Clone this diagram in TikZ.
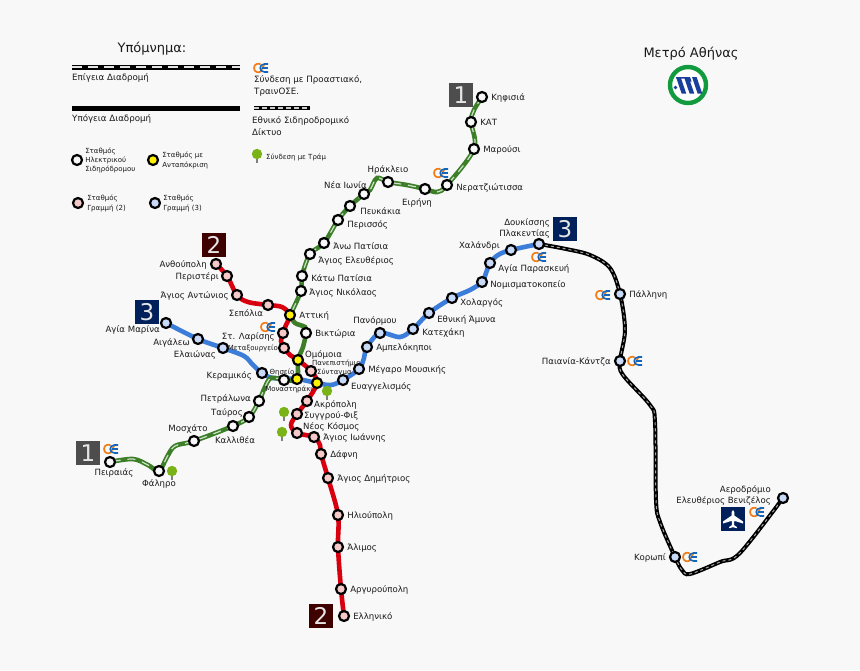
\documentclass[tikz,border=0pt]{standalone}
\usepackage{fontspec}
\setmainfont{DejaVu Sans}
\usepackage{xcolor}
\usepackage{tikz}
\usetikzlibrary{arrows.meta,positioning,backgrounds}
\definecolor{pagegrey}{HTML}{F8F8F8}
\definecolor{linered}{HTML}{D8000F}
\definecolor{lineblue}{HTML}{3B7DD8}
\definecolor{linegreen}{HTML}{3C7F28}
\definecolor{fillpink}{HTML}{F6C9C9}
\definecolor{fillblue}{HTML}{C9DAF8}
\definecolor{navy}{HTML}{00205B}
\definecolor{darkred}{HTML}{3F0000}
\definecolor{slate}{HTML}{4D4D4D}
\definecolor{osered}{HTML}{F07D1A}
\definecolor{oseblue}{HTML}{1566B8}
\definecolor{treegreen}{HTML}{7AB317}
\definecolor{ringgreen}{HTML}{129A3E}
\definecolor{logoblue}{HTML}{1A3E9C}
\definecolor{textgrey}{HTML}{1A1A1A}

\begin{document}
\begin{tikzpicture}[x=1pt,y=-1pt,
  stn/.style={circle,draw=black,line width=2.2pt,minimum size=10pt,inner sep=0pt,fill=pagegrey},
  stnpink/.style={stn,fill=fillpink},
  stnblue/.style={stn,fill=fillblue},
  stnswap/.style={stn,fill=yellow},
  lbl/.style={inner sep=0pt,yshift=-.8pt,font=\fontsize{8.6pt}{9.6pt}\selectfont,text=textgrey},
  tiny/.style={inner sep=0pt,yshift=-.5pt,font=\fontsize{7pt}{9.4pt}\selectfont,text=textgrey,align=left},
  legendtext/.style={inner sep=0pt,yshift=-.8pt,font=\fontsize{8.7pt}{11.5pt}\selectfont,text=textgrey,align=left},
  numbox/.style={minimum size=24pt,inner sep=0pt,text=white!90!black,font=\fontsize{23pt}{23pt}\selectfont},
  redline/.style={draw=linered,line width=4.6pt,line cap=round},
  blueline/.style={draw=lineblue,line width=4.6pt,line cap=round},
  greenline/.style={draw=linegreen,line width=4.6pt},
  greendash/.style={draw=white!75!linegreen,line width=1.2pt,dash pattern=on 8pt off 7pt},
  railline/.style={draw=black,line width=4pt},
  raildash/.style={draw=white!65!black,line width=1pt,dash pattern=on 3pt off 3pt},
  ose/.pic={
    \draw[osered,line width=1.7pt] (-.5,-3.6) .. controls (-2,-5) and (-7,-4.5) .. (-7,0) .. controls (-7,4.5) and (-2,5) .. (-.5,3.6) -- (3.5,-4);
    \draw[oseblue,line width=1.6pt] (7.2,-4) -- (3.5,-4) .. controls (.5,-4) and (-.8,-2) .. (-.8,0) .. controls (-.8,2) and (.5,4) .. (3.5,4) -- (7.2,4);
    \draw[oseblue,line width=1.4pt] (1,0) -- (6.8,0);
  },
  tram/.pic={
    \fill[gray] (-.9,0) rectangle (.9,9);
    \fill[treegreen] (0,0) circle (5.2);
  }]

  % legend
  \node[font=\fontsize{13pt}{13pt}\selectfont,text=textgrey,inner sep=0pt] (legendT) at (152,49) {Υπόμνημα:};
  \coordinate (barA) at (72,67); \coordinate (barB) at (240,67);
  \coordinate (barC) at (72,108); \coordinate (barD) at (240,108);
  \coordinate (barE) at (254,108); \coordinate (barF) at (310,108);
  \draw[black,line width=5pt] (barA) -- (barB);
  \draw[white!90!black,line width=1.4pt,dash pattern=on 10pt off 6pt] (barA) -- (barB);
  \draw[black,line width=5pt] (barC) -- (barD);
  \draw[black,line width=3.4pt] (barE) -- (barF);
  \draw[white!80!black,line width=1.2pt,dash pattern=on 5pt off 3pt] (barE) -- (barF);
  \node[legendtext,anchor=west] (overT) at (72,77) {Επίγεια Διαδρομή};
  \node[legendtext,anchor=west] (underT) at (72,118) {Υπόγεια Διαδρομή};
  \node[legendtext,anchor=north west] (suburbT) at (254,75) {Σύνδεση με Προαστιακό,\\ΤραινΟΣΕ.};
  \node[legendtext,anchor=north west] (railT) at (252,116) {Εθνικό Σιδηροδρομικό\\Δίκτυο};
  \pic at (261,68) {ose};
  \pic at (257,154) {tram};
  \node[tiny,anchor=west] (tramT) at (266,157) {Σύνδεση με Τράμ};
  \node[stn] (keyA) at (77,160) {};
  \node[stnswap] (keyB) at (153,160) {};
  \node[stnpink] (keyC) at (78,203) {};
  \node[stnblue] (keyD) at (155,203) {};
  \node[tiny,right=2pt of keyA] (keyAT) {Σταθμός\\Ηλεκτρικού\\Σιδηρόδρομου};
  \node[tiny,right=3pt of keyB] (keyBT) {Σταθμός με\\Ανταπόκριση};
  \node[tiny,right=3pt of keyC] (keyCT) {Σταθμός\\Γραμμή (2)};
  \node[tiny,right=2pt of keyD] (keyDT) {Σταθμός\\Γραμμή (3)};

  % title and logo
  \node[font=\fontsize{13pt}{13pt}\selectfont,text=textgrey,inner sep=0pt] (titleT) at (691,54) {Μετρό Αθήνας};
  \node[circle,draw=ringgreen,line width=4.4pt,fill=white,minimum size=36pt,inner sep=0pt] (logo) at (688,85) {};
  \foreach \d in {0,8,16}
    \fill[logoblue] (676+\d,77) -- (680.6+\d,77) -- (686.2+\d,93.5) -- (681.6+\d,93.5) -- cycle;
  \fill[logoblue] (676,77) -- (690,77) -- (691.6,81.5) -- (687,81.5) -- (685.6,78.5) -- (676.5,78.5) -- cycle;
  \fill[logoblue] (675.4,87.5) circle (1.9);

  % line 1
  \node[stn] (kifisia) at (482,97) {};
  \node[stn] (kat) at (471,122) {};
  \node[stn] (marousi) at (474,149) {};
  \node[stn] (nerat) at (447,185) {};
  \node[stn] (irini) at (425,189) {};
  \node[stn] (iraklio) at (388,182) {};
  \node[stn] (neaionia) at (364,194) {};
  \node[stn] (pefkakia) at (350,206) {};
  \node[stn] (perissos) at (338,220) {};
  \node[stn] (anopatisia) at (324,243) {};
  \node[stn] (eleftherios) at (310,254) {};
  \node[stn] (katopatisia) at (302,276) {};
  \node[stn] (nikolaos) at (301,291) {};
  \node[stnswap] (attiki) at (290,315) {};
  \node[stn] (viktoria) at (306,333) {};
  \node[stnswap] (omonia) at (298,360) {};
  \node[stnswap] (monastiraki) at (297,379) {};
  \node[stn] (thiseio) at (284,380) {};
  \node[stn] (petralona) at (259,401) {};
  \node[stn] (tavros) at (249,417) {};
  \node[stn] (kallithea) at (233,426) {};
  \node[stn] (moschato) at (194,441) {};
  \node[stn] (faliro) at (159,471) {};
  \node[stn] (pireas) at (110,462) {};

  % line 2
  \node[stnpink] (anthoupoli) at (216,264) {};
  \node[stnpink] (peristeri) at (227,276) {};
  \node[stnpink] (antonios) at (237,295) {};
  \node[stnpink] (sepolia) at (268,305) {};
  \node[stnpink] (larisis) at (283,333) {};
  \node[stnpink] (metaxourgeio) at (284,348) {};
  \node[stnpink] (panepistimio) at (311,371) {};
  \node[stnswap] (syntagma) at (317,383) {};
  \node[stnpink] (akropoli) at (307,401) {};
  \node[stnpink] (syngrou) at (297,414) {};
  \node[stnpink] (neoskosmos) at (297,433) {};
  \node[stnpink] (ioannis) at (314,437) {};
  \node[stnpink] (dafni) at (321,454) {};
  \node[stnpink] (dimitrios) at (328,478) {};
  \node[stnpink] (ilioupoli) at (338,515) {};
  \node[stnpink] (alimos) at (338,547) {};
  \node[stnpink] (argyroupoli) at (341,589) {};
  \node[stnpink] (elliniko) at (344,616) {};

  % line 3
  \node[stnblue] (marina) at (166,323) {};
  \node[stnblue] (aigaleo) at (198,339) {};
  \node[stnblue] (elaionas) at (223,348) {};
  \node[stnblue] (keramikos) at (262,373) {};
  \node[stnblue] (evangelismos) at (343,380) {};
  \node[stnblue] (megaro) at (359,369) {};
  \node[stnblue] (ampelokipoi) at (367,347) {};
  \node[stnblue] (panormou) at (380,333) {};
  \node[stnblue] (katehaki) at (413,329) {};
  \node[stnblue] (amyna) at (429,313) {};
  \node[stnblue] (holargos) at (452,298) {};
  \node[stnblue] (nomisma) at (482,282) {};
  \node[stnblue] (paraskevi) at (490,263) {};
  \node[stnblue] (halandri) at (511,250) {};
  \node[stnblue] (doukissis) at (539,244) {};
  \node[stnblue] (pallini) at (620,294) {};
  \node[stnblue] (paiania) at (620,361) {};
  \node[stnblue] (koropi) at (675,557) {};
  \node[stnblue] (airport) at (783,498) {};

  % tracks
  \begin{scope}[on background layer]
    \fill[pagegrey] (0,0) rectangle (860,670);
    \draw[redline] plot[smooth,tension=.55] coordinates {(anthoupoli) (peristeri) (antonios) (248,302) (sepolia) (282,307) (attiki) (286,325) (larisis) (281,341) (metaxourgeio) (290,355) (omonia) (panepistimio) (syntagma) (akropoli) (syngrou) (291,425) (neoskosmos) (ioannis) (320,445) (dafni) (dimitrios) (ilioupoli) (alimos) (argyroupoli) (elliniko)};
    \draw[blueline] plot[smooth,tension=.55] coordinates {(marina) (aigaleo) (elaionas) (244,356) (253,365) (keramikos) (273,378) (monastiraki) (syntagma) (331,385) (evangelismos) (megaro) (364,358) (ampelokipoi) (panormou) (400,337) (katehaki) (amyna) (holargos) (470,290) (nomisma) (486,273) (paraskevi) (498,255) (halandri) (doukissis)};
    \draw[greenline] plot[smooth,tension=.55] coordinates {(attiki) (295,323) (305,327) (viktoria) (303,347) (omonia) (monastiraki) (thiseio)};
    \foreach \trackstyle in {greenline,greendash}
      \draw[\trackstyle] plot[smooth,tension=.55] coordinates {(kifisia) (474,110) (kat) (marousi) (nerat) (437,192) (irini) (407,185) (iraklio) (377,178) (370,190) (neaionia) (pefkakia) (perissos) (anopatisia) (eleftherios) (katopatisia) (nikolaos) (attiki)};
    \foreach \trackstyle in {greenline,greendash}
      \draw[\trackstyle] plot[smooth,tension=.55] coordinates {(thiseio) (271,378) (265,387) (petralona) (tavros) (kallithea) (moschato) (175,446) (167,457) (faliro) (148,465) (133,459) (pireas)};
    \foreach \trackstyle in {railline,raildash}
      \draw[\trackstyle] plot[smooth,tension=.55] coordinates {(doukissis) (566,249) (590,255) (610,268) (pallini) (625,330) (paiania) (623,375) (650,405) (655,422) (656,500) (660,522) (koropi) (682,570) (690,574) (720,562) (740,553) (airport)};
  \end{scope}

  % line numbers
  \node[numbox,fill=slate] (numA) at (461,95) {1};
  \node[numbox,fill=slate] (numB) at (88,453) {1};
  \node[numbox,fill=darkred] (numC) at (214,245) {2};
  \node[numbox,fill=darkred] (numD) at (321,616) {2};
  \node[numbox,fill=navy] (numE) at (147,312) {3};
  \node[numbox,fill=navy] (numF) at (565,229) {3};

  % suburban rail marks
  \pic at (441,173) {ose};
  \pic at (539,257) {ose};
  \pic at (603,295) {ose};
  \pic at (635,361) {ose};
  \pic at (690,557) {ose};
  \pic at (757,512) {ose};
  \pic at (268,327) {ose};
  \pic at (111,449) {ose};

  % tram marks
  \pic at (172,471) {tram};
  \pic at (327,391) {tram};
  \pic at (284,412) {tram};
  \pic at (282,432) {tram};

  % airport
  \node[minimum size=24pt,inner sep=0pt,fill=navy] (plane) at (733,519) {};
  \fill[white] (733,510) -- (734.3,512) -- (734.3,515.5) -- (743,521.5) -- (743,523.5) -- (734.3,520.8) -- (734,525) -- (736.8,527) -- (736.8,528.2) -- (733,527.2) -- (729.2,528.2) -- (729.2,527) -- (732,525) -- (731.7,520.8) -- (723,523.5) -- (723,521.5) -- (731.7,515.5) -- (731.7,512) -- cycle;

  % names, line 1
  \node[lbl,right=3pt of kifisia] (kifisiaT) {Κηφισιά};
  \node[lbl,right=3pt of kat] (katT) {ΚΑΤ};
  \node[lbl,right=3pt of marousi] (marousiT) {Μαρούσι};
  \node[lbl,right=3pt of nerat,yshift=-2pt] (neratT) {Νερατζιώτισσα};
  \node[lbl,below=3pt of irini,xshift=-8pt] (iriniT) {Ειρήνη};
  \node[lbl,above=2pt of iraklio] (iraklioT) {Ηράκλειο};
  \node[lbl,anchor=east] (neaionaT) at (367,184) {Νέα Ιωνία};
  \node[lbl,right=4pt of pefkakia,yshift=-4pt] (pefkakiaT) {Πευκάκια};
  \node[lbl,right=3pt of perissos,yshift=-4pt] (perissosT) {Περισσός};
  \node[lbl,right=3pt of anopatisia,yshift=-2pt] (anopatisiaT) {Άνω Πατίσια};
  \node[lbl,right=2pt of eleftherios,yshift=-6pt] (eleftheriosT) {Άγιος Ελευθέριος};
  \node[lbl,right=3pt of katopatisia,yshift=-1pt] (katopatisiaT) {Κάτω Πατίσια};
  \node[lbl,right=2pt of nikolaos,yshift=-1pt] (nikolaosT) {Άγιος Νικόλαος};
  \node[lbl,right=3pt of attiki] (attikiT) {Αττική};
  \node[lbl,right=3pt of viktoria] (viktoriaT) {Βικτώρια};
  \node[lbl,anchor=west] (omoniaT) at (305,354) {Ομόμοια};
  \node[tiny,anchor=center] (monastirakiT) at (289,389) {Μοναστηράκι};
  \node[tiny,anchor=center] (thiseioT) at (282,372) {Θησείο};
  \node[lbl,anchor=east] (petralonaT) at (251,398) {Πετράλωνα};
  \node[lbl,anchor=east] (tavrosT) at (243,412) {Ταύρος};
  \node[lbl] (kallitheaT) at (235,439) {Καλλιθέα};
  \node[lbl] (moschatoT) at (188,428) {Μοσχάτο};
  \node[lbl] (falirotT) at (159,483) {Φάληρο};
  \node[lbl] (pireasT) at (114,472) {Πειραιάς};

  % names, line 2
  \node[lbl,left=3pt of anthoupoli] (anthoupoliT) {Ανθούπολη};
  \node[lbl,left=2pt of peristeri] (peristeriT) {Περιστέρι};
  \node[lbl,left=2pt of antonios] (antoniosT) {Άγιος Αντώνιος};
  \node[lbl] (sepoliaT) at (246,312) {Σεπόλια};
  \node[lbl,anchor=east] (larisisT) at (275,336) {Στ. Λαρίσης};
  \node[tiny,anchor=east] (metaxourgeioT) at (278,348) {Μεταξουργείο};
  \node[tiny,anchor=west] (panepistimioT) at (312,363) {Πανεπιστήμιο};
  \node[tiny,anchor=west] (syntagmaT) at (317,372) {Σύνταγμα};
  \node[lbl,anchor=west] (akropoliT) at (314,404) {Ακρόπολη};
  \node[lbl,anchor=west] (syngrouT) at (304,415) {Συγγρού-Φιξ};
  \node[lbl,anchor=west] (neoskosmosT) at (303,426) {Νέος Κόσμος};
  \node[lbl,right=3pt of ioannis] (ioannisT) {Άγιος Ιωάννης};
  \node[lbl,right=3pt of dafni] (dafniT) {Δάφνη};
  \node[lbl,right=3pt of dimitrios] (dimitriosT) {Άγιος Δημήτριος};
  \node[lbl,right=3pt of ilioupoli] (ilioupoliT) {Ηλιούπολη};
  \node[lbl,right=3pt of alimos] (alimosT) {Άλιμος};
  \node[lbl,right=3pt of argyroupoli] (argyroupoliT) {Αργυρούπολη};
  \node[lbl,right=3pt of elliniko] (ellinikoT) {Ελληνικό};

  % names, line 3
  \node[lbl,anchor=east] (marinaT) at (160,329) {Αγία Μαρίνα};
  \node[lbl,anchor=east] (aigaleoT) at (190,342) {Αιγάλεω};
  \node[lbl,anchor=east] (elaionasT) at (216,354) {Ελαιώνας};
  \node[lbl,anchor=east] (keramikosT) at (252,375) {Κεραμικός};
  \node[lbl,anchor=west] (evangelismosT) at (351,386) {Ευαγγελισμός};
  \node[lbl,right=3pt of megaro] (megaroT) {Μέγαρο Μουσικής};
  \node[lbl,right=3pt of ampelokipoi] (ampelokipoiT) {Αμπελόκηποι};
  \node[lbl] (panormouT) at (375,320) {Πανόρμου};
  \node[lbl,right=3pt of katehaki,yshift=-3pt] (katehakiT) {Κατεχάκη};
  \node[lbl,right=2pt of amyna,yshift=-6pt] (amynaT) {Εθνική Άμυνα};
  \node[lbl,right=2pt of holargos,yshift=-4pt] (holargosT) {Χολαργός};
  \node[lbl,right=2pt of nomisma,yshift=-2pt] (nomismaT) {Νομισματοκοπείο};
  \node[lbl,right=2pt of paraskevi,yshift=-5pt] (paraskeviT) {Αγία Παρασκευή};
  \node[lbl,anchor=east] (halandriT) at (500,245) {Χαλάνδρι};
  \node[lbl,anchor=east,align=right,font=\fontsize{8.6pt}{11pt}\selectfont] (doukissisT) at (550,228) {Δουκίσσης\\Πλακεντίας};
  \node[lbl,right=3pt of pallini] (palliniT) {Πάλληνη};
  \node[lbl,left=3pt of paiania] (paianiaT) {Παιανία-Κάντζα};
  \node[lbl,left=3pt of koropi] (koropiT) {Κορωπί};
  \node[lbl,anchor=east,align=right,font=\fontsize{8.6pt}{11pt}\selectfont] (airportT) at (771,495) {Αεροδρόμιο\\Ελευθέριος Βενιζέλος};
\end{tikzpicture}
\end{document}
